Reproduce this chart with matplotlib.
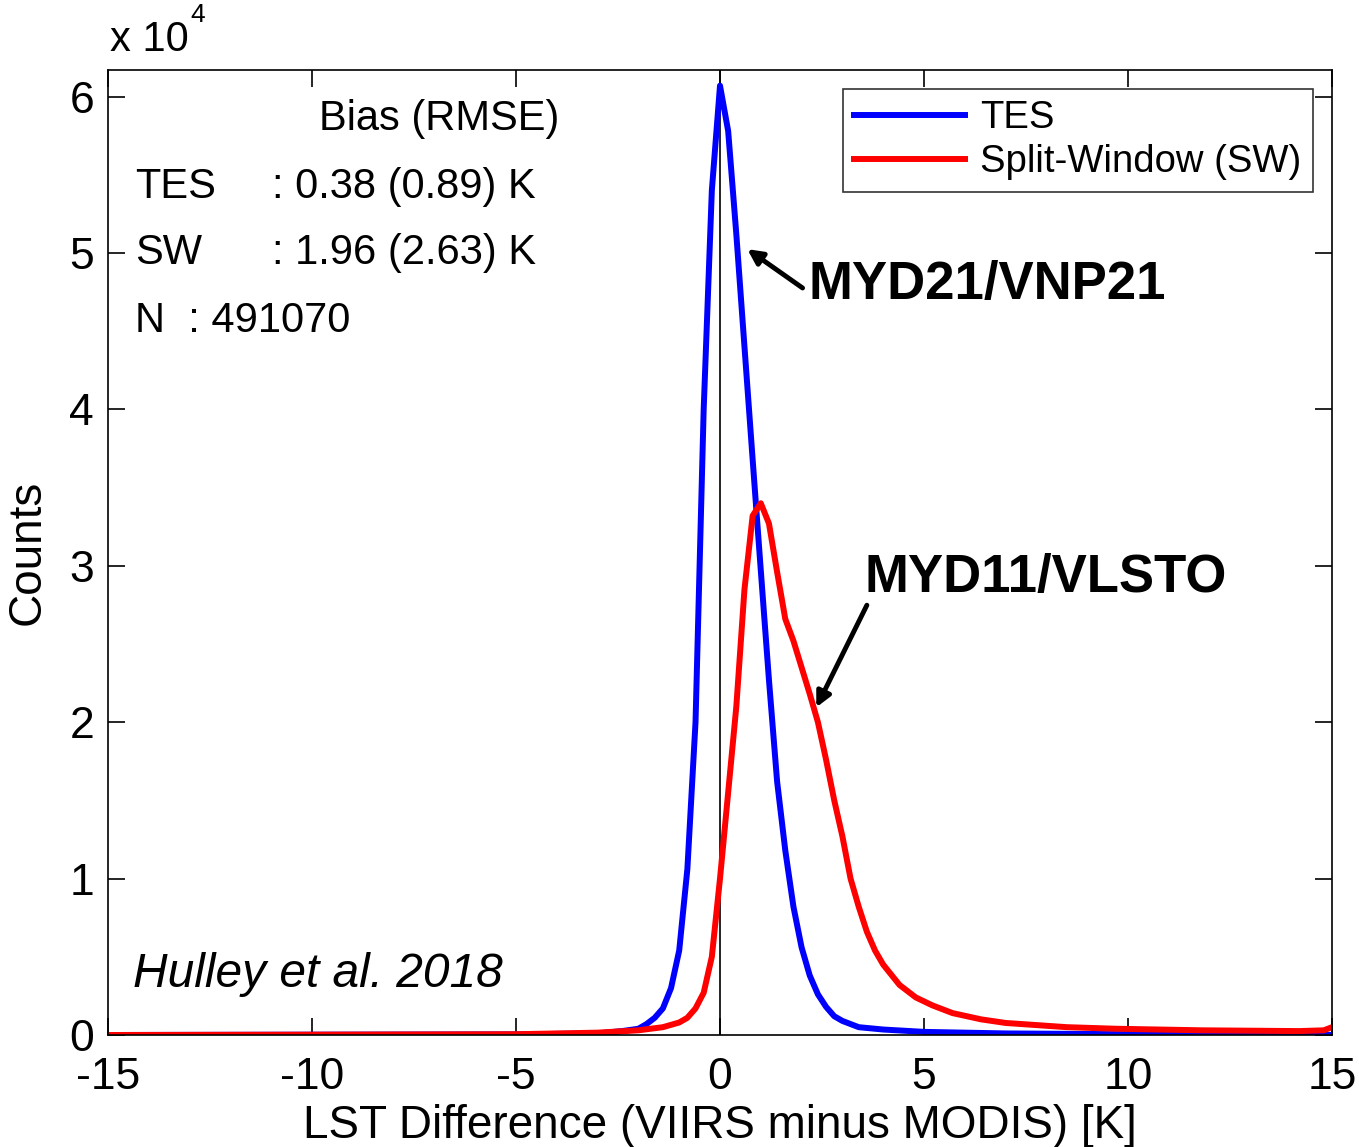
import numpy as np
import matplotlib
matplotlib.use("Agg")
import matplotlib.pyplot as plt

plt.rcParams['font.family'] = ['Liberation Sans', 'DejaVu Sans']

# LST difference (K) and counts (x 1e4)
tes_x = [-15, -10, -5, -3.0, -2.4, -2.0, -1.8, -1.6, -1.4, -1.2, -1.0, -0.8, -0.6, -0.4, -0.2,
         0.0, 0.2, 0.4, 0.6, 0.8, 1.0, 1.2, 1.4, 1.6, 1.8, 2.0, 2.2, 2.4, 2.6, 2.8, 3.0,
         3.4, 4.0, 5.0, 7.0, 10.0, 15.0]
tes_y = [0.0, 0.002, 0.004, 0.01, 0.025, 0.04, 0.07, 0.11, 0.17, 0.30, 0.54, 1.06, 2.0, 4.0, 5.4,
         6.07, 5.78, 5.12, 4.40, 3.68, 2.97, 2.27, 1.62, 1.18, 0.82, 0.56, 0.38, 0.26, 0.18, 0.12, 0.09,
         0.05, 0.035, 0.02, 0.01, 0.005, 0.0]

sw_x = [-15, -10, -5, -3.0, -2.0, -1.4, -1.0, -0.8, -0.6, -0.4, -0.2,
        0.0, 0.2, 0.4, 0.6, 0.8, 1.0, 1.2, 1.4, 1.6, 1.8, 2.0, 2.2, 2.4, 2.6, 2.8,
        3.0, 3.2, 3.4, 3.6, 3.8, 4.0, 4.4, 4.8, 5.2, 5.7, 6.4, 7.0, 8.5, 9.7, 11.8, 14.2, 14.8, 15.0]
sw_y = [0.0, 0.002, 0.005, 0.015, 0.03, 0.05, 0.08, 0.11, 0.17, 0.27, 0.50,
        1.00, 1.55, 2.10, 2.85, 3.32, 3.40, 3.27, 2.96, 2.66, 2.52, 2.35, 2.18, 2.00, 1.76, 1.50,
        1.27, 1.00, 0.82, 0.66, 0.54, 0.45, 0.32, 0.24, 0.19, 0.14, 0.10, 0.077, 0.05, 0.04, 0.03, 0.025, 0.03, 0.05]

x_ticks = [-15, -10, -5, 0, 5, 10, 15]
y_ticks = [0, 1, 2, 3, 4, 5, 6]

fig = plt.figure(figsize=(13.59, 11.47), dpi=100)
ax = fig.add_axes([108 / 1359, 112 / 1147, 1224 / 1359, 965 / 1147])

ax.plot(tes_x, np.array(tes_y) * 1e4, color='#0000ff', lw=4.3, label='TES')
ax.plot(sw_x, np.array(sw_y) * 1e4, color='#ff0000', lw=4.3, label='Split-Window (SW)')
ax.axvline(0, color='black', lw=1.2, zorder=1)

ax.set_xlim(-15, 15)
ax.set_ylim(0, 6.17e4)
ax.set_xticks(x_ticks)
ax.set_xticklabels([str(t) for t in x_ticks])
ax.set_yticks([t * 1e4 for t in y_ticks])
ax.set_yticklabels([str(t) for t in y_ticks])
ax.tick_params(direction='in', length=12, width=1.2, labelsize=32,
               top=True, right=True)
ax.tick_params(axis='x', pad=16)
ax.tick_params(axis='y', pad=10)
for s in ax.spines.values():
    s.set_linewidth(1.2)

ax.set_xlabel('LST Difference (VIIRS minus MODIS) [K]', fontsize=33, labelpad=4)
ax.set_ylabel('Counts', fontsize=33, labelpad=14)

fig.text(110 / 1359, 1 - 40 / 1147, 'x 10', fontsize=30, va='center', ha='left')
fig.text(190 / 1359, 1 - 15 / 1147, '4', fontsize=19, va='center', ha='left')

leg = ax.legend(loc='upper right', bbox_to_anchor=(0.9845, 0.9803), borderaxespad=0,
                fontsize=27.5, frameon=True, fancybox=False, edgecolor='black',
                handlelength=2.9, handletextpad=0.4, labelspacing=0.2, borderpad=0.3)
leg.get_frame().set_linewidth(1.2)

# statistics text block
fs = 30
ax.text(-9.83, 5.854e4, 'Bias (RMSE)', fontsize=fs, va='center', ha='left')
ax.text(-14.34, 5.425e4, 'TES', fontsize=fs, va='center', ha='left')
ax.text(-10.98, 5.425e4, ': 0.38 (0.89) K', fontsize=fs, va='center', ha='left')
ax.text(-14.34, 4.997e4, 'SW', fontsize=fs, va='center', ha='left')
ax.text(-10.98, 4.997e4, ': 1.96 (2.63) K', fontsize=fs, va='center', ha='left')
ax.text(-14.34, 4.568e4, 'N  : 491070', fontsize=fs, va='center', ha='left')
ax.text(-14.39, 0.384e4, 'Hulley et al. 2018', fontsize=34.5, style='italic', va='center', ha='left')

# product annotations
ax.annotate('', xy=(0.613, 5.035e4), xytext=(2.08, 4.766e4),
            arrowprops=dict(arrowstyle='-|>', color='black', lw=3.5, mutation_scale=22))
ax.text(2.157, 4.798e4, 'MYD21/VNP21', fontsize=38, fontweight='bold', va='center', ha='left')
ax.annotate('', xy=(2.33, 2.079e4), xytext=(3.63, 2.764e4),
            arrowprops=dict(arrowstyle='-|>', color='black', lw=3.5, mutation_scale=22))
ax.text(3.55, 2.924e4, 'MYD11/VLSTO', fontsize=38, fontweight='bold', va='center', ha='left')

fig.savefig('out.png', dpi=100)
